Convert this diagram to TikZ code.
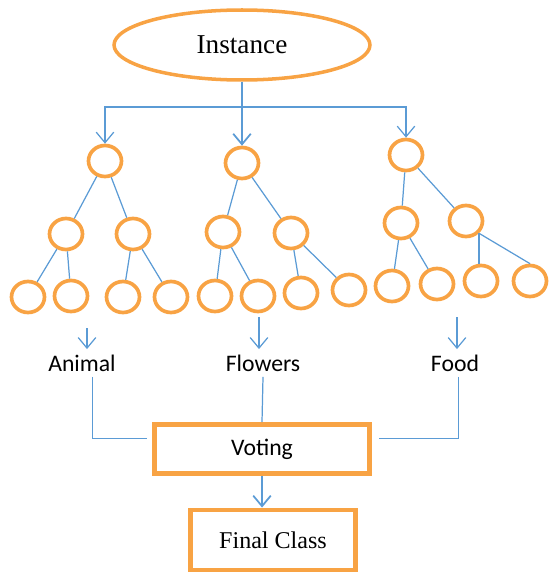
\documentclass[tikz,border=0pt]{standalone}
\usepackage{fontspec}
\setmainfont{Liberation Serif}
\newfontfamily\labelfont{Carlito}
\usetikzlibrary{shapes.geometric,arrows.meta}
\definecolor{treeorange}{RGB}{248,163,68}
\definecolor{lineblue}{RGB}{91,155,213}
\tikzset{
  treenode/.style={draw=treeorange,line width=2.1pt,ellipse,minimum width=0.66cm,minimum height=0.62cm,inner sep=0pt},
  votebox/.style={draw=treeorange,line width=2.8pt,rectangle,inner sep=0pt},
  classlabel/.style={font=\labelfont\fontsize{13.5}{16}\selectfont,inner sep=3pt},
  link/.style={lineblue,line width=0.7pt}
}
\begin{document}
\begin{tikzpicture}[x=0.02cm,y=-0.02cm,>={Straight Barb[length=6pt,width=10pt]}]
\useasboundingbox (0,0) rectangle (548,574);
%Instance on top
    \node[draw=treeorange,line width=2pt,ellipse,minimum width=5.12cm,minimum height=1.40cm,
          font=\fontsize{15.5}{18}\selectfont] (inst) at (242,45) {Instance};
    \coordinate (split) at (242,107);
    \draw[link] (inst) -- (split);

%The three trees, root / second level / leaves
    \foreach \name/\x/\y in {r1/105/161,a1/66/234,a2/133/234,
                             l1/28/297,l2/71/296,l3/123/297,l4/171/297,
                             r2/242/163,b1/223/232,b2/291/233,
                             l5/215/296,l6/258/296,l7/301/293,l8/349/290,
                             r3/406/155,d1/401/223,d2/466/221,
                             l9/392/286,l10/437/284,l11/481/281,l12/530/281}
        {
        \node[treenode] (\name) at (\x,\y) {};
    }
    \foreach \from/\to in {r1/a1,r1/a2,a1/l1,a1/l2,a2/l3,a2/l4,
                           r2/b1,r2/b2,b1/l5,b1/l6,b2/l7,b2/l8,
                           r3/d1,r3/d2,d1/l9,d1/l10}
        {
        \draw[link] (\from) -- (\to);
    }
%last pair hangs from one point under its parent
    \coordinate (fork) at (d2.south east);
    \draw[link] (fork) -- (fork |- l11.north);
    \draw[link] (fork) -- (l12.north);

%Instance goes to every tree
    \draw[link,->] (split) -| (r1.north);
    \draw[link,->,line width=1pt] (split) -- (r2.north);
    \draw[link,->] (split) -| (r3.north);

%What each tree says
    \node[classlabel] (animal) at (82,363) {Animal};
    \node[classlabel] (flowers) at (263,363) {Flowers};
    \node[classlabel] (food) at (455,363) {Food};
    \coordinate (ta) at (87,328);
    \coordinate (tb) at (259,317);
    \coordinate (tc) at (457,317);
    \draw[link,->] (ta) -- (ta |- animal.north);
    \draw[link,->] (tb) -- (tb |- flowers.north);
    \draw[link,->] (tc) -- (tc |- food.north);

%Voting and the result
    \node[votebox,minimum width=4.3cm,minimum height=0.98cm,font=\labelfont\fontsize{13.5}{16}\selectfont] (vote) at (262,449) {Voting};
    \node[votebox,minimum width=3.3cm,minimum height=1.2cm,font=\fontsize{13.7}{16}\selectfont] (final) at (273,540) {Final Class};
    \draw[link] ([xshift=3pt]ta |- animal.south) |- ([xshift=-3pt,yshift=6pt]vote.west);
    \draw[link] (flowers.south) -- (vote.north);
    \draw[link] ([xshift=1pt]tc |- food.south) |- ([xshift=4pt,yshift=6pt]vote.east);
    \draw[link,->,line width=1pt] (vote.south) -- (vote.south |- final.north);
\end{tikzpicture}
\end{document}
